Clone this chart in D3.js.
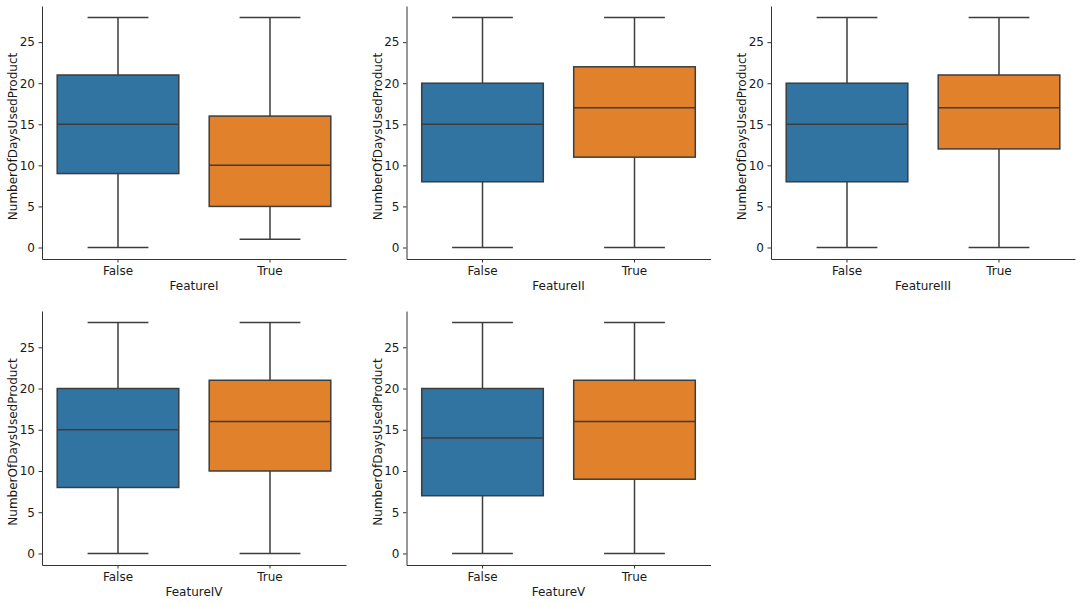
<!DOCTYPE html>
<html><head><meta charset="utf-8">
<script src="https://cdn.jsdelivr.net/npm/d3@7"></script>
<style>body{margin:0;background:#fff}svg{display:block}text{font-family:"DejaVu Sans",sans-serif;fill:#1a1a1a}</style>
</head><body>
<svg id="c" width="1080" height="604"></svg>
<script>
const features = ["FeatureI","FeatureII","FeatureIII","FeatureIV","FeatureV"];
const groups = ["False","True"];
const whiskerLow  = [[0,1],[0,0],[0,0],[0,0],[0,0]];
const q1          = [[9,5],[8,11],[8,12],[8,10],[7,9]];
const median      = [[15,10],[15,17],[15,17],[15,16],[14,16]];
const q3          = [[21,16],[20,22],[20,21],[20,21],[20,21]];
const whiskerHigh = [[28,28],[28,28],[28,28],[28,28],[28,28]];
const yTicks = [0,5,10,15,20,25];
const yLabel = "NumberOfDaysUsedProduct";
const colors = ["#3274a1","#e1812c"];

const svg = d3.select("#c");
const lefts = [42, 406.5, 771];
const rows = [{top:6,bottom:259},{top:311,bottom:565}];
const pw = 304;
const edge = "#3d3d3d";

features.forEach((f,i)=>{
  const r = Math.floor(i/3), c = i%3;
  const x0 = lefts[c], {top,bottom} = rows[r];
  const g = svg.append("g");
  const y = d3.scaleLinear().domain([-1.4,29.4]).range([bottom,top]);
  const x = d3.scaleBand().domain(groups).range([x0,x0+pw]).paddingInner(0.2).paddingOuter(0.1);
  const xc = d => x(d)+x.bandwidth()/2;
  const bw = x.bandwidth();
  groups.forEach((gr,j)=>{
    const cx = xc(gr);
    // whiskers
    g.append("line").attr("x1",cx).attr("x2",cx).attr("y1",y(whiskerLow[i][j])).attr("y2",y(q1[i][j])).attr("stroke",edge).attr("stroke-width",1.5);
    g.append("line").attr("x1",cx).attr("x2",cx).attr("y1",y(q3[i][j])).attr("y2",y(whiskerHigh[i][j])).attr("stroke",edge).attr("stroke-width",1.5);
    [whiskerLow[i][j],whiskerHigh[i][j]].forEach(v=>{
      g.append("line").attr("x1",cx-bw/4).attr("x2",cx+bw/4).attr("y1",y(v)).attr("y2",y(v)).attr("stroke",edge).attr("stroke-width",1.5);
    });
    g.append("rect").attr("x",x(gr)).attr("width",bw).attr("y",y(q3[i][j])).attr("height",y(q1[i][j])-y(q3[i][j]))
      .attr("fill",colors[j]).attr("stroke",edge).attr("stroke-width",1.5);
    g.append("line").attr("x1",x(gr)).attr("x2",x(gr)+bw).attr("y1",y(median[i][j])).attr("y2",y(median[i][j])).attr("stroke",edge).attr("stroke-width",1.5);
  });
  // axes
  const ya = g.append("g").attr("transform",`translate(${x0},0)`)
    .call(d3.axisLeft(y).tickValues(yTicks).tickSize(3.5).tickPadding(3.5).tickSizeOuter(0));
  const xa = g.append("g").attr("transform",`translate(0,${bottom})`)
    .call(d3.axisBottom(x).tickSize(3.5).tickPadding(3.5).tickSizeOuter(0));
  [ya,xa].forEach(a=>{
    a.select(".domain").attr("stroke","#333").attr("stroke-width",1);
    a.selectAll(".tick line").attr("stroke","#333");
    a.selectAll("text").attr("font-size",12).attr("font-family","DejaVu Sans, sans-serif").attr("fill","#1a1a1a");
  });
  g.append("text").attr("x",x0+pw/2).attr("y",bottom+31).attr("text-anchor","middle").attr("font-size",12).text(f);
  g.append("text").attr("transform",`translate(${x0-29},${(top+bottom)/2+4}) rotate(-90)`).attr("text-anchor","middle").attr("dy","0.35em").attr("font-size",12).text(yLabel);
});
</script>
</body></html>
